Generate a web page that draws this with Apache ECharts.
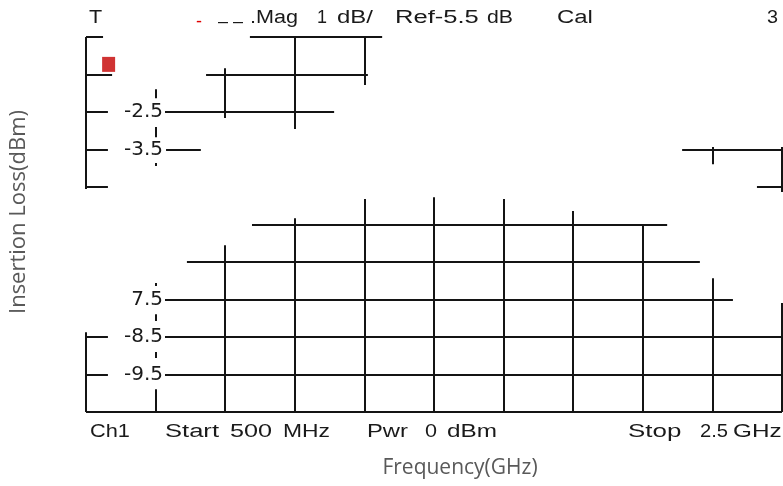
<!DOCTYPE html>
<html>
<head>
<meta charset="utf-8">
<script src="https://cdn.jsdelivr.net/npm/echarts@6/dist/echarts.min.js"></script>
<style>
html,body{margin:0;padding:0;background:#fff;}
#c{width:783px;height:486px;}
</style>
</head>
<body>
<div id="c"></div>
<script>
// ---- data (frequency in GHz, level in dB) ----
// horizontal grid segments still visible on the analyzer screen
const hLevelDb  = [-0.5, -0.5, -1.5, -1.5, -2.5, -2.5, -3.5, -3.5, -3.5, -4.5, -4.5, -5.5, -6.5, -7.5, -8.5, -8.5, -9.5, -9.5, -10.5];
const hStartGHz = [0.5, 0.971, 0.5, 0.845, 0.5, 0.727, 0.5, 0.730, 2.213, 0.5, 2.428, 0.977, 0.790, 0.727, 0.5, 0.727, 0.5, 0.727, 0.5];
const hEndGHz   = [0.549, 1.351, 0.575, 1.310, 0.563, 1.213, 0.563, 0.830, 2.5, 0.563, 2.5, 2.170, 2.264, 2.359, 0.563, 2.5, 0.563, 2.5, 2.5];

// vertical grid segments still visible
const vFreqGHz  = [0.5, 0.5, 0.7, 0.7, 0.7, 0.7, 0.7, 0.7, 0.7, 0.9, 0.9, 1.1, 1.1, 1.3, 1.3, 1.5, 1.7, 1.9, 2.1, 2.3, 2.3, 2.5, 2.5];
const vTopDb    = [-0.5, -8.37, -1.89, -2.90, -3.86, -7.06, -7.89, -8.90, -9.89, -1.33, -6.05, -0.5, -5.33, -0.5, -4.82, -4.77, -4.82, -5.14, -5.54, -3.43, -6.93, -3.43, -7.59];
const vBottomDb = [-4.55, -10.5, -2.13, -3.17, -3.94, -7.14, -8.07, -9.06, -10.5, -2.66, -10.5, -2.95, -10.5, -1.78, -10.5, -10.5, -10.5, -10.5, -10.5, -3.89, -10.5, -4.63, -10.5];

// reference-level marker
const markerGHz = [0.565];
const markerDb  = [-1.23];

// y tick labels as displayed
const yTickValues = [-2.5, -3.5, -7.5, -8.5, -9.5];
const yTickLabels = ['-2.5', '-3.5', '7.5', '-8.5', '-9.5'];

// screen annotation words
const headerWords = ['T', '-', '– –', '.Mag', '1', 'dB/', 'Ref-5.5', 'dB', 'Cal', '3'];
const footerWords = ['Ch1', 'Start', '500', 'MHz', 'Pwr', '0', 'dBm', 'Stop', '2.5', 'GHz'];
const xTitle = 'Frequency(GHz)';
const yTitle = 'Insertion Loss(dBm)';

// ---- layout (positions / sizes only) ----
const headerX = [89, 196, 218, 250, 317, 337, 395, 487, 557, 767];
const headerScale = [1.2, 1.0, 1.0, 1.2, 1.0, 1.33, 1.42, 1.18, 1.33, 1.1];
const footerX = [90, 165, 230, 283, 367, 425, 447, 628, 700, 733];
const footerScale = [1.21, 1.42, 1.4, 1.27, 1.32, 1.2, 1.35, 1.44, 1.12, 1.35];

const segData = [];
hLevelDb.forEach((y, i) => segData.push({coords: [[hStartGHz[i], y], [hEndGHz[i], y]]}));
vFreqGHz.forEach((x, i) => segData.push({coords: [[x, vTopDb[i]], [x, vBottomDb[i]]]}));

const screenFont = '"Liberation Sans", Arial, sans-serif';
const graphics = [];
headerWords.forEach((w, i) => graphics.push({
  type: 'text', x: headerX[i], y: (i === 1 || i === 2) ? 22 : 18.5, scaleX: headerScale[i],
  style: {text: w, fontSize: 18, fontFamily: screenFont,
          fill: i === 1 ? '#e00000' : '#1a1a1a', align: 'left', verticalAlign: 'middle'}
}));
footerWords.forEach((w, i) => graphics.push({
  type: 'text', x: footerX[i], y: 432, scaleX: footerScale[i],
  style: {text: w, fontSize: 18, fontFamily: screenFont,
          fill: '#1a1a1a', align: 'left', verticalAlign: 'middle'}
}));
graphics.push({
  type: 'text', x: 460, y: 468,
  style: {text: xTitle, fontSize: 21, fontFamily: '"Open Sans", sans-serif', fill: '#595959',
          align: 'center', verticalAlign: 'middle'}
});
graphics.push({
  type: 'text', x: 19, y: 212, rotation: Math.PI / 2,
  style: {text: yTitle, fontSize: 22, fontFamily: '"Open Sans", sans-serif', fill: '#595959',
          align: 'center', verticalAlign: 'middle'}
});

const chart = echarts.init(document.getElementById('c'), null, {renderer: 'canvas'});
chart.setOption({
  backgroundColor: '#ffffff',
  animation: false,
  grid: {left: 86, right: 1, top: 37, bottom: 74, containLabel: false, outerBoundsMode: 'none'},
  xAxis: {
    type: 'value', min: 0.5, max: 2.5,
    axisLine: {show: false}, axisTick: {show: false}, splitLine: {show: false}, axisLabel: {show: false}
  },
  yAxis: {
    type: 'value', min: -10.5, max: -0.5,
    axisLine: {show: false}, axisTick: {show: false}, splitLine: {show: false},
    axisLabel: {
      show: true, inside: true, margin: 77, align: 'right',
      customValues: yTickValues,
      formatter: v => { const k = yTickValues.indexOf(v); return k >= 0 ? yTickLabels[k] : ''; },
      fontSize: 20, fontFamily: '"DejaVu Sans", sans-serif', color: '#1a1a1a'
    }
  },
  series: [
    {
      type: 'lines', coordinateSystem: 'cartesian2d', polyline: false, silent: true,
      lineStyle: {color: '#141414', width: 2, opacity: 1, curveness: 0},
      data: segData
    },
    {
      type: 'scatter', silent: true, symbol: 'rect', symbolSize: [13, 15],
      itemStyle: {color: '#c40000'},
      data: markerGHz.map((x, i) => [x, markerDb[i]])
    }
  ],
  graphic: graphics
});
</script>
</body>
</html>
